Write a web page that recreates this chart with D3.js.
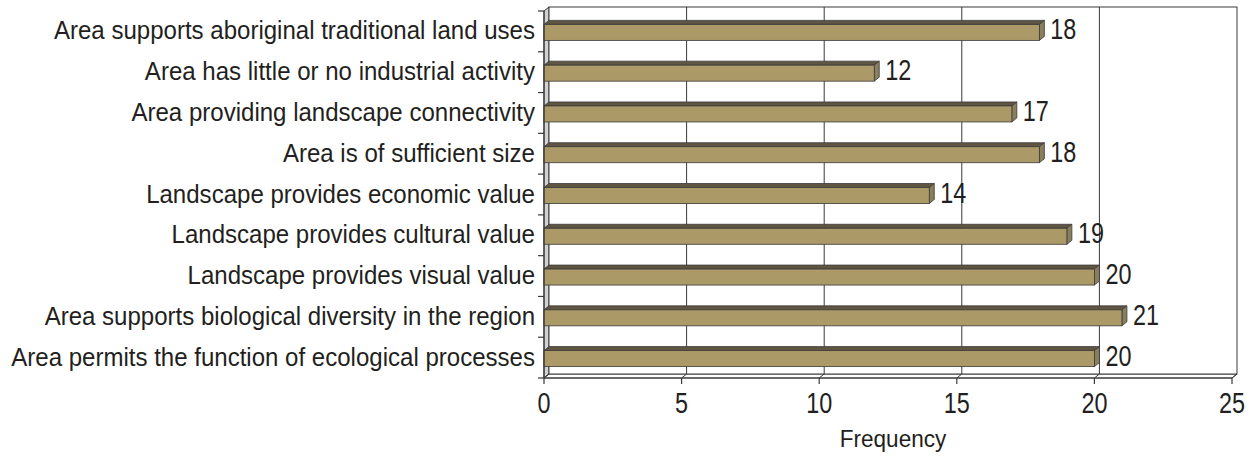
<!DOCTYPE html>
<html>
<head>
<meta charset="utf-8">
<script src="https://cdn.jsdelivr.net/npm/d3@7"></script>
<style>
  html, body { margin: 0; padding: 0; background: #fff; }
  svg { display: block; }
  text { font-family: "Liberation Sans", Arial, sans-serif; fill: #231f20; }
</style>
</head>
<body>
<svg id="chart" width="1256" height="456"></svg>
<script>
// Criteria (top to bottom) and how often each was cited
const categories = [
  "Area supports aboriginal traditional land uses",
  "Area has little or no industrial activity",
  "Area providing landscape connectivity",
  "Area is of sufficient size",
  "Landscape provides economic value",
  "Landscape provides cultural value",
  "Landscape provides visual value",
  "Area supports biological diversity in the region",
  "Area permits the function of ecological processes"
];
const frequency = [18, 12, 17, 18, 14, 19, 20, 21, 20];
const xTicks = [0, 5, 10, 15, 20, 25];
const xTitle = "Frequency";

const svg = d3.select("#chart");

// Front plane of the plot and the depth offset of the back wall
const plotLeft = 544, plotRight = 1232, plotTop = 11, plotBottom = 378;
const dx = 5, dy = -4;

const x = d3.scaleLinear().domain([0, 25]).range([plotLeft, plotRight]);
const y = d3.scaleBand().domain(categories).range([plotTop, plotBottom]);

const edge = "#3a3a3a";

// Condensed type: letters slightly narrowed, digits tall and narrow
const wordScale = 0.925, digitScale = 0.78;
const place = (px, py, sx) => `translate(${px},${py}) scale(${sx},1)`;

// Left wall (thin grey side panel)
svg.append("polygon")
  .attr("points", [[plotLeft, plotTop], [plotLeft + dx, plotTop + dy], [plotLeft + dx, plotBottom + dy], [plotLeft, plotBottom]].join(" "))
  .attr("fill", "#d2d2d2").attr("stroke", edge).attr("stroke-width", 1);

// Floor
svg.append("polygon")
  .attr("points", [[plotLeft, plotBottom], [plotLeft + dx, plotBottom + dy], [plotRight + dx, plotBottom + dy], [plotRight, plotBottom]].join(" "))
  .attr("fill", "#fff").attr("stroke", edge).attr("stroke-width", 1);

// Back wall
svg.append("rect")
  .attr("x", plotLeft + dx).attr("y", plotTop + dy)
  .attr("width", plotRight - plotLeft).attr("height", plotBottom - plotTop)
  .attr("fill", "#fff").attr("stroke", edge).attr("stroke-width", 1);

// Gridlines on the back wall and their floor diagonals
const grid = svg.append("g");
xTicks.slice(1, -1).forEach(t => {
  grid.append("line")
    .attr("x1", x(t) + dx).attr("x2", x(t) + dx)
    .attr("y1", plotTop + dy).attr("y2", plotBottom + dy)
    .attr("stroke", edge).attr("stroke-width", 1);
});
xTicks.forEach(t => {
  grid.append("line")
    .attr("x1", x(t)).attr("x2", x(t) + dx)
    .attr("y1", plotBottom).attr("y2", plotBottom + dy)
    .attr("stroke", edge).attr("stroke-width", 1);
});

// 3D bars: top face, end face, front face, value label
const barH = 16;
const bars = svg.append("g").selectAll("g").data(categories).join("g");
bars.each(function(c, i) {
  const g = d3.select(this);
  const v = frequency[i];
  const y0 = y(c) + y.bandwidth() / 2 - barH / 2 + 1;
  const x0 = x(0), x1 = x(v);
  g.append("polygon")
    .attr("points", [[x0, y0], [x0 + dx, y0 + dy], [x1 + dx, y0 + dy], [x1, y0]].join(" "))
    .attr("fill", "#5f5542").attr("stroke", edge).attr("stroke-width", 0.8);
  g.append("polygon")
    .attr("points", [[x1, y0], [x1 + dx, y0 + dy], [x1 + dx, y0 + barH + dy], [x1, y0 + barH]].join(" "))
    .attr("fill", "#8a7f5d").attr("stroke", edge).attr("stroke-width", 0.8);
  g.append("rect")
    .attr("x", x0).attr("y", y0).attr("width", x1 - x0).attr("height", barH)
    .attr("fill", "#ab9968").attr("stroke", edge).attr("stroke-width", 0.8);
  g.append("text")
    .attr("transform", place(x1 + dx + 6, y(c) + y.bandwidth() / 2 + 8, digitScale))
    .attr("font-size", 30)
    .text(v);
});

// Front axes
svg.append("line").attr("x1", plotLeft).attr("x2", plotLeft).attr("y1", plotTop).attr("y2", plotBottom)
  .attr("stroke", edge).attr("stroke-width", 1.2);
svg.append("line").attr("x1", plotLeft).attr("x2", plotRight).attr("y1", plotBottom).attr("y2", plotBottom)
  .attr("stroke", edge).attr("stroke-width", 1.2);

// Category ticks at band boundaries
const yBounds = categories.map(c => y(c)).concat([plotBottom]);
svg.append("g").selectAll("line").data(yBounds).join("line")
  .attr("x1", plotLeft - 6).attr("x2", plotLeft).attr("y1", d => d).attr("y2", d => d)
  .attr("stroke", edge).attr("stroke-width", 1.2);

// Value ticks
svg.append("g").selectAll("line").data(xTicks).join("line")
  .attr("x1", d => x(d)).attr("x2", d => x(d)).attr("y1", plotBottom).attr("y2", plotBottom + 6)
  .attr("stroke", edge).attr("stroke-width", 1.2);

// Category labels
svg.append("g").selectAll("text").data(categories).join("text")
  .attr("transform", c => place(plotLeft - 9, y(c) + y.bandwidth() / 2 + 8, wordScale))
  .attr("text-anchor", "end").attr("font-size", 26)
  .text(c => c);

// Tick labels
svg.append("g").selectAll("text").data(xTicks).join("text")
  .attr("transform", d => place(x(d), 413, digitScale))
  .attr("text-anchor", "middle").attr("font-size", 30)
  .text(d => d);

// Axis title
svg.append("text")
  .attr("transform", place(893, 447, 0.94))
  .attr("text-anchor", "middle").attr("font-size", 24)
  .text(xTitle);
</script>
</body>
</html>
